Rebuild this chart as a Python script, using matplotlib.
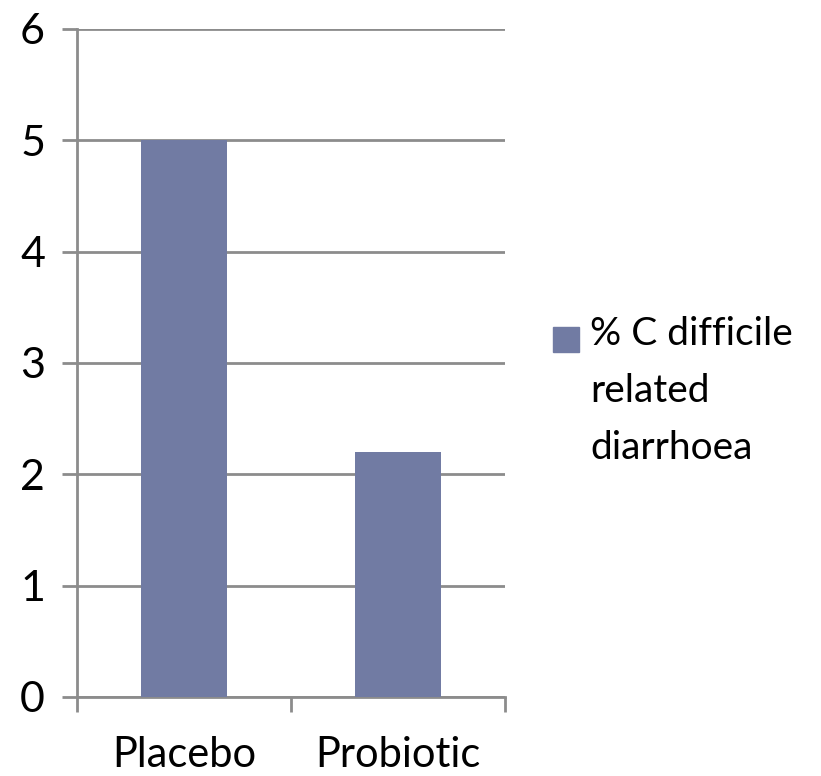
import matplotlib.pyplot as plt
from matplotlib.patches import Rectangle

# data
categories = ['Placebo', 'Probiotic']
values = [5, 2.2]
series_name = '% C difficile\nrelated\ndiarrhoea'

bar_color = '#717ba3'
grid_color = '#8c8c8c'

plt.rcParams['font.family'] = ['Lato', 'DejaVu Sans']

fig = plt.figure(figsize=(8.21, 7.76), dpi=100)
ax = fig.add_axes([77 / 821, 1 - 697 / 776, (505 - 77) / 821, (697 - 29) / 776])

x = list(range(len(categories)))
ax.bar(x, values, width=0.4, color=bar_color, zorder=3)

ax.set_xlim(-0.5, len(categories) - 0.5)
ax.set_ylim(0, 6)
ax.set_yticks(range(0, 7))
ax.set_yticklabels(['0', '1', '2', '3', '4', '5', '6'])
ax.yaxis.grid(True, color=grid_color, linewidth=2, zorder=0)

# category labels on major ticks (no marks), boundary marks on minor ticks
ax.set_xticks(x)
ax.set_xticklabels(categories)
ax.set_xticks([i - 0.5 for i in range(len(categories) + 1)], minor=True)
ax.tick_params(axis='x', which='major', length=0, labelsize=30, pad=28)
ax.tick_params(axis='x', which='minor', length=11, width=2, color=grid_color, direction='out')
ax.tick_params(axis='y', length=11, width=2, color=grid_color, labelsize=31, pad=12)

for s in ['top', 'right']:
    ax.spines[s].set_visible(False)
for s in ['left', 'bottom']:
    ax.spines[s].set_color(grid_color)
    ax.spines[s].set_linewidth(2)

# legend
fig.patches.append(Rectangle((553 / 821, 1 - 352 / 776), 26 / 821, 25 / 776,
                             transform=fig.transFigure, color=bar_color))
fig.text(590 / 821, 1 - 316 / 776, series_name, fontsize=28, va='top', ha='left',
         linespacing=1.72)

fig.savefig('out.png', dpi=100)
